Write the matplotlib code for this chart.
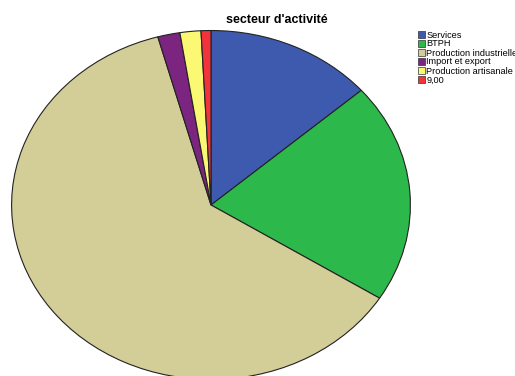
import matplotlib.pyplot as plt
from matplotlib.patches import Rectangle

plt.rcParams['font.family'] = ['Liberation Sans', 'DejaVu Sans']

labels = ['Services', 'BTPH', 'Production industrielle', 'Import et export',
          'Production artisanale', '9,00']
values = [13.6, 20.4, 61.8, 1.8, 1.7, 0.8]
colors = ['#3d5aae', '#2db84b', '#d3ce97', '#7b2580', '#fbf873', '#f2333c']

W, H = 515, 376
fig = plt.figure(figsize=(W / 100, H / 100), dpi=100)
# pie is stretched into an ellipse, bottom runs off the image
ax = fig.add_axes([11 / W, -4 / H, 400 / W, 350 / H])
ax.pie(values, colors=colors, startangle=90, counterclock=False,
       wedgeprops=dict(edgecolor='#222222', linewidth=0.8))
ax.set_aspect('auto')
ax.set_xlim(-1.003, 1.003)
ax.set_ylim(-1.003, 1.003)
ax.axis('off')

fig.text(277 / W, 1 - 20 / H, "secteur d'activité", ha='center', va='center',
         fontsize=9, fontweight='bold')

# legend drawn by hand, SPSS style
for i, (lab, col) in enumerate(zip(labels, colors)):
    yc = 34 + 9 * i
    fig.patches.append(Rectangle((417.5 / W, 1 - (yc + 3.5) / H), 7 / W, 7 / H,
                                 transform=fig.transFigure, facecolor=col,
                                 edgecolor='#333333', linewidth=0.5))
    fig.text(426.5 / W, 1 - (yc + 1) / H, lab, ha='left', va='center', fontsize=6.6)

fig.savefig('out.png', dpi=100)
